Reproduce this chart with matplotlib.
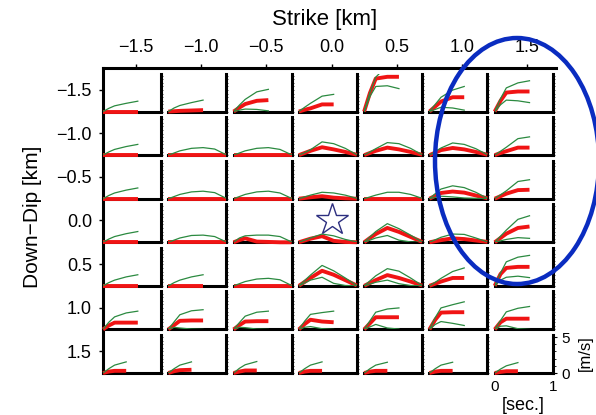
import numpy as np
import matplotlib
matplotlib.use("Agg")
from matplotlib import pyplot as plt
from matplotlib.patches import Ellipse

plt.rcParams.update({"font.family": ["Liberation Sans", "DejaVu Sans"],
                     "font.size": 13})

# panel centres
strike = [-1.5, -1.0, -0.5, 0.0, 0.5, 1.0, 1.5]
dip = [-1.5, -1.0, -0.5, 0.0, 0.5, 1.0, 1.5]

# time samples [sec]; a trace uses the first len(values) samples
t = [0, 0.1, 0.2, 0.4, 0.6, 0.8, 1.0]

# slip velocity [m/s], rows = dip (top to bottom), cols = strike
green_main = [
    [[0, .45, .8, 1.15, 1.45], [0, .5, .85, 1.25, 1.6], [0, .9, 1.7, 2.75, 3.1],
     [0, .6, 1.15, 2.15, 2.4], [0, 2.7, 4.8, 6.4, 6.6], [0, 1.0, 2.0, 3.0, 3.5],
     [0, 1.8, 3.3, 4.0, 4.3]],
    [[0, .45, .8, 1.2, 1.5], [0, .3, .6, .95, 1.05, .85, .05], [0, .3, .6, .95, 1.05, .8, .05],
     [0, .35, .75, 1.85, 1.6, .95, .05], [0, .45, .9, 1.75, 1.6, .95, .05],
     [0, .5, 1.0, 1.7, 1.5, .9, .05], [0, .55, 1.1, 2.3, 2.55]],
    [[0, .45, .8, 1.2, 1.5], [0, .3, .6, .95, 1.05, .85, .05], [0, .3, .6, .95, 1.05, .8, .05],
     [0, .25, .5, .9, .8, .5, .05], [0, .25, .5, .9, .9, .6, .05],
     [0, .7, 1.35, 1.8, 1.55, .9, .05], [0, .55, 1.1, 2.4, 2.65]],
    [[0, .45, .8, 1.2, 1.5], [0, .3, .6, .95, 1.0, .8, .05], [0, .6, .9, 1.0, 1.0, .8, .05],
     [0, .3, .6, 1.15, .9, .4, .05], [0, .75, 1.5, 2.6, 1.9, 1.0, .05],
     [0, .35, .7, 1.15, 1.1, .6, .05], [0, .85, 1.7, 3.2, 3.7]],
    [[0, .45, .8, 1.25, 1.55], [0, .45, .8, 1.25, 1.55], [0, .3, .6, .95, 1.05, .85, .05],
     [0, .75, 1.5, 2.85, 2.1, 1.1, .05], [0, .7, 1.4, 2.4, 2.05, 1.1, .05],
     [0, .5, 1.05, 2.0, 2.5], [0, 1.8, 3.35, 4.0, 4.25]],
    [[0, 1.0, 1.75, 2.3, 2.55], [0, 1.05, 2.05, 2.6, 2.75], [0, .95, 1.85, 2.4, 2.55],
     [0, 1.15, 2.1, 2.35, 2.55], [0, 1.2, 2.4, 2.85, 3.0], [0, 1.65, 3.0, 3.45, 3.85],
     [0, 1.25, 2.45, 2.95, 3.2]],
    [[0, .6, 1.1, 1.55], [0, .6, 1.1, 1.55], [0, .65, 1.15, 1.6], [0, .6, 1.1, 1.55],
     [0, .6, 1.1, 1.5], [0, .6, 1.1, 1.5], [0, .55, 1.0, 1.45]],
]

red_main = [
    [[0, 0, 0, 0, 0], [0, .05, .1, .15, .2], [0, .55, 1.05, 1.5, 1.6], [0, .25, .45, 1.0, 1.0],
     [0, 2.6, 4.6, 4.85, 4.85], [0, .7, 1.4, 2.0, 2.0], [0, 1.5, 2.65, 2.8, 2.8]],
    [[0, 0, 0, 0, 0], [0, 0, 0, 0, 0, 0, 0], [0, 0, 0, 0, 0, 0, 0],
     [0, .3, .6, 1.1, .8, .45, .05], [0, .3, .6, 1.05, .8, .45, .05],
     [0, .35, .7, 1.0, .8, .45, .05], [0, .3, .55, 1.05, 1.05]],
    [[0, 0, 0, 0, 0], [0, 0, 0, 0, 0, 0, 0], [0, 0, 0, 0, 0, 0, 0],
     [0, .1, .2, .35, .15, .05, 0], [0, 0, 0, 0, 0, 0, 0],
     [0, .4, .8, 1.0, .85, .45, .05], [0, .35, .7, 1.2, 1.25]],
    [[0, 0, 0, 0, 0], [0, 0, 0, 0, 0, 0, 0], [0, .3, .55, .1, .05, 0, 0],
     [0, .25, .5, .85, .2, .05, 0], [0, .6, 1.15, 2.0, 1.45, .75, .05],
     [0, .15, .3, .55, .45, .25, .05], [0, .6, 1.2, 2.0, 2.2]],
    [[0, 0, 0, 0, 0], [0, 0, 0, 0, 0], [0, 0, 0, 0, 0, 0, 0],
     [0, .55, 1.1, 2.1, 1.55, .8, .05], [0, .4, .8, 1.5, 1.1, .6, .05],
     [0, .3, .6, 1.1, 1.1], [0, 1.65, 2.5, 2.65, 2.65]],
    [[0, .55, .95, .95, .95], [0, .6, 1.2, 1.25, 1.25], [0, .6, 1.1, 1.15, 1.15],
     [0, .75, 1.35, 1.1, 1.0], [0, .85, 1.7, 1.7, 1.7], [0, 1.35, 2.35, 2.4, 2.4],
     [0, 1.0, 1.5, 1.5, 1.5]],
    [[0, .2, .3, .3], [0, .25, .4, .45], [0, .2, .35, .35], [0, .2, .3, .3],
     [0, .2, .3, .3], [0, .2, .3, .3], [0, .15, .25, .25]],
]

# second (lower) green trace, keyed by (row, col)
green_low = {
    (0, 2): [0, .2, .35, .3, .1],
    (0, 4): [0, 2.1, 3.5, 3.6, 3.2],
    (0, 5): [0, .3, .6, .5, .2],
    (0, 6): [0, .95, 1.6, 1.5, 1.25],
    (2, 5): [0, .2, .35, .25, .1, .05, 0],
    (3, 4): [0, .3, .6, .95, .3, .05, 0],
    (3, 6): [0, .2, .4, .65, .55],
    (4, 3): [0, .4, .8, 1.2, .35, .05, 0],
    (4, 4): [0, .25, .5, .8, .3, .05, 0],
    (4, 6): [0, .8, 1.2, 1.35, 1.15],
    (5, 1): [0, .3, .2, .05, 0],
    (5, 2): [0, .3, .25, .05, 0],
    (5, 3): [0, .3, .4, .1, 0],
    (5, 4): [0, .35, .7, .2, .05],
    (5, 5): [0, .7, 1.1, .85, .55],
    (5, 6): [0, .45, .5, .1, 0],
}

hypocenter = (0.0, 0.0)

GREEN = "#2b8a40"
RED = "#f01414"


def fmt(v):
    return f"{v:.1f}".replace("-", "\u2212")


fig = plt.figure(figsize=(5.96, 4.15), dpi=100)
ax = fig.add_axes([103 / 596, 42 / 415, 457 / 596, 305 / 415])
ax.set_xlim(-1.75, 1.75)
ax.set_ylim(1.75, -1.75)
ax.xaxis.tick_top()
ax.set_xticks(strike)
ax.set_xticklabels([fmt(v) for v in strike])
ax.set_yticks(dip)
ax.set_yticklabels([fmt(v) for v in dip])
ax.tick_params(axis="x", length=3, width=1, pad=6, labelsize=13)
ax.tick_params(axis="y", length=3, width=1, pad=5, labelsize=13)
for s in ["bottom", "right"]:
    ax.spines[s].set_visible(False)
for s in ["top", "left"]:
    ax.spines[s].set_linewidth(2.2)
ax.spines["top"].set_bounds(-1.75, 1.72)
ax.patch.set_visible(False)

panel_w = 58 / 457
panel_h = 38 / 305
for j in range(len(dip)):
    for i in range(len(strike)):
        sub = ax.inset_axes([i / 7, 1 - (j + 1) / 7, panel_w, panel_h])
        sub.set_xlim(0, 1)
        sub.set_ylim(0, 5.3)
        sub.patch.set_visible(False)
        sub.spines["top"].set_visible(False)
        sub.spines["left"].set_visible(False)
        sub.spines["right"].set_linewidth(2.2)
        sub.spines["bottom"].set_linewidth(2.2)
        sub.yaxis.tick_right()
        sub.set_xticks([])
        last = (j == len(dip) - 1 and i == len(strike) - 1)
        if last:
            sub.set_yticks([0, 5])
            sub.set_yticks(np.arange(0, 5.5, 1), minor=True)
            sub.tick_params(axis="y", which="major", length=3, width=0.8, pad=3,
                            labelsize=11, labelright=True)
            sub.tick_params(axis="y", which="minor", length=2, width=0.6)
            sub.set_xticks([0, 1])
            sub.tick_params(axis="x", length=0, pad=5, labelsize=11)
        else:
            sub.set_yticks(np.arange(0, 5.5, 0.5))
            sub.tick_params(axis="y", length=1.5, width=0.5, labelright=False)
        r = red_main[j][i]
        sub.plot(t[:len(r)], r, color=RED, lw=2.8, solid_capstyle="butt",
                 clip_on=False, zorder=3)
        if (j, i) in green_low:
            g2 = green_low[(j, i)]
            sub.plot(t[:len(g2)], g2, color=GREEN, lw=0.9, zorder=4)
        g = green_main[j][i]
        sub.plot(t[:len(g)], g, color=GREEN, lw=0.9, zorder=4)

ax.plot(*hypocenter, marker="*", ms=24, mfc="none", mec="#2d2f80", mew=1.0,
        zorder=20, clip_on=False)

fig.add_artist(Ellipse((517 / 596, 1 - 161 / 415), 164 / 596, 246 / 415,
                       transform=fig.transFigure, fill=False,
                       ec="#0a2cc0", lw=3.2))

fig.text(325 / 596, 1 - 19 / 415, "Strike [km]", ha="center", va="center",
         fontsize=16)
fig.text(32 / 596, 1 - 217 / 415, "Down\u2212Dip [km]", rotation=90,
         ha="center", va="center", fontsize=15)
fig.text(585 / 596, 1 - 353 / 415, "[m/s]", rotation=90, ha="center",
         va="center", fontsize=12)
fig.text(523 / 596, 1 - 405 / 415, "[sec.]", ha="center", va="center",
         fontsize=13)

fig.savefig("out.png", dpi=100)
